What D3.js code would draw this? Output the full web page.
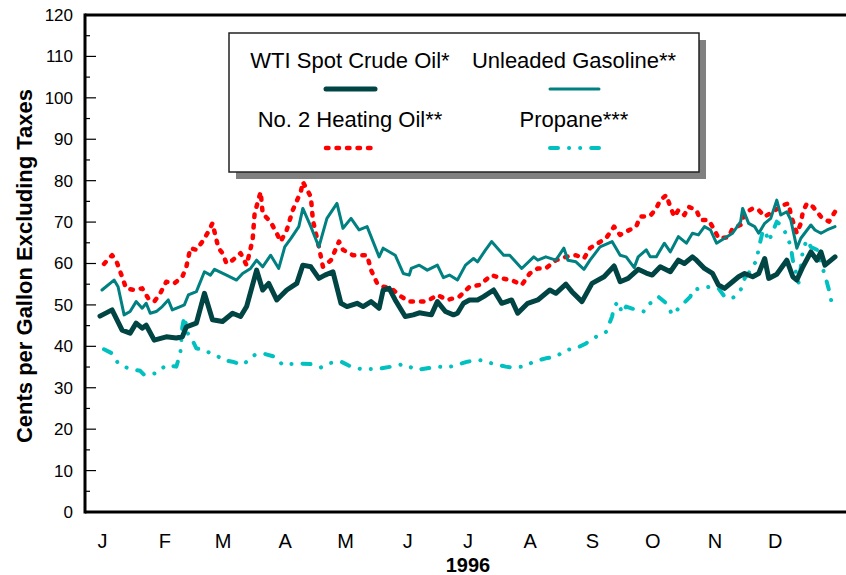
<!DOCTYPE html>
<html>
<head>
<meta charset="utf-8">
<script src="https://cdn.jsdelivr.net/npm/d3@7"></script>
<style>
    body { margin: 0; background: #fff; }
    svg { display: block; font-family: "Liberation Sans", Arial, sans-serif; }
    .tick-label { font-size: 17px; fill: #000; }
    .month-label { font-size: 20px; fill: #000; }
    .legend-text { font-size: 22px; fill: #000; }
</style>
</head>
<body>
<svg id="chart" width="846" height="575"></svg>
<script>
// [day of 1996, cents per gallon]
let crudeOil = [[0,47.3],[6,48.8],[11,43.9],[15,43.2],[18,45.6],[21,44.4],[23,45.1],[27,41.5],[33,42.3],
    [38,42.0],[41,42.3],[43,44.7],[48,45.6],[52,52.8],[56,46.4],[61,46.0],[66,48.0],[70,47.2],[73,49.6],
    [78,58.4],[81,53.6],[84,55.2],[88,51.2],[93,53.6],[98,55.2],[101,59.6],[105,59.2],[109,56.4],[112,57.2],
    [116,58.0],[120,50.4],[123,49.6],[128,50.4],[131,49.6],[135,50.8],[139,49.2],[141,53.6],[144,54.0],
    [147,51.2],[152,47.2],[156,47.6],[159,48.1],[165,47.6],[168,50.8],[172,48.4],[176,47.6],[178,48.0],
    [181,50.4],[184,51.2],[188,51.2],[191,52.0],[196,53.6],[200,50.4],[205,51.2],[208,48.0],[213,50.4],
    [218,51.2],[224,53.6],[227,52.8],[232,55.0],[235,53.2],[240,50.8],[245,55.2],[251,56.8],[256,59.4],
    [259,55.6],[263,56.4],[268,58.6],[272,57.7],[275,57.2],[279,59.2],[284,58.0],[288,60.8],[291,60.0],
    [295,61.6],[297,60.8],[301,58.8],[305,57.6],[308,54.8],[311,54.0],[315,55.6],[318,56.8],[321,57.6],
    [325,56.8],[328,57.6],[331,61.2],[333,56.4],[337,57.4],[342,60.8],[345,56.8],[347,56.0],[350,59.2],
    [354,62.8],[357,60.8],[359,62.8],[361,59.6],[366,61.6]];

let gasoline = [[1,53.6],[7,56.0],[9,54.4],[12,47.6],[15,48.4],[18,50.8],[21,49.2],[23,50.4],[25,48.0],
    [28,48.4],[31,49.6],[34,51.2],[36,48.8],[40,49.6],[42,50.0],[44,52.4],[48,53.2],[52,58.0],[55,57.2],
    [57,58.6],[63,57.2],[68,56.0],[71,57.6],[75,58.8],[78,60.8],[81,59.2],[85,62.0],[89,58.8],[92,64.0],
    [95,66.0],[99,68.9],[101,73.3],[105,68.9],[109,64.0],[113,70.9],[118,74.5],[121,68.5],[125,70.9],
    [129,68.1],[133,68.9],[139,61.6],[141,63.7],[147,62.0],[151,57.6],[154,57.2],[155,58.8],[159,59.6],
    [163,58.4],[168,59.6],[171,56.6],[174,57.2],[178,56.0],[182,59.6],[186,61.2],[188,60.4],[192,63.3],
    [195,65.3],[201,62.0],[204,62.0],[210,58.8],[216,61.6],[218,60.8],[222,61.6],[227,60.8],[231,63.7],
    [233,60.8],[237,60.4],[241,58.6],[244,60.8],[249,64.0],[255,65.3],[259,62.0],[262,61.6],[266,59.0],
    [268,61.6],[272,63.3],[274,61.6],[277,61.6],[281,64.9],[284,62.8],[288,66.5],[292,64.9],[295,67.3],
    [298,66.9],[301,68.9],[304,68.1],[307,64.9],[311,66.1],[315,67.3],[319,70.1],[320,73.3],[323,69.7],
    [326,68.9],[328,67.3],[331,69.7],[334,70.9],[337,75.3],[339,71.7],[342,72.5],[344,70.5],[347,63.7],
    [349,66.1],[354,69.3],[356,68.1],[359,67.3],[362,68.1],[366,68.9]];

let heatingOil = [[2,59.9],[6,62.0],[8,60.8],[11,56.8],[13,54.0],[17,53.6],[21,54.0],[24,51.6],[27,50.8],
    [30,52.8],[33,55.6],[37,55.2],[41,56.8],[43,59.2],[45,63.7],[48,63.3],[51,65.3],[54,67.7],[56,69.7],
    [59,63.7],[61,62.5],[63,60.0],[66,60.8],[70,62.5],[73,59.6],[76,65.7],[77,72.1],[80,77.3],[81,72.1],
    [85,70.0],[88,67.3],[90,65.3],[93,68.1],[96,72.9],[100,77.3],[101,79.7],[105,76.1],[106,70.5],
    [109,64.0],[111,59.2],[115,60.8],[119,65.3],[121,63.3],[126,62.0],[133,62.0],[135,58.4],[138,55.2],
    [141,54.4],[145,54.0],[150,52.0],[154,50.8],[161,50.8],[164,51.2],[168,52.4],[173,51.2],[179,52.0],
    [184,54.4],[189,54.8],[195,57.2],[200,56.4],[205,56.0],[210,54.8],[214,57.6],[218,58.8],[222,58.8],
    [227,60.8],[232,61.6],[237,62.0],[241,61.2],[244,63.7],[248,64.9],[252,66.1],[256,68.9],[259,66.9],
    [262,67.7],[267,68.9],[269,71.3],[274,71.5],[277,73.3],[279,75.3],[282,76.5],[284,73.7],[286,71.3],
    [288,72.9],[291,71.7],[293,73.7],[297,72.9],[299,70.5],[303,70.5],[306,68.1],[308,66.1],[313,66.3],
    [315,68.5],[319,69.3],[321,72.1],[325,73.3],[328,72.9],[331,71.3],[335,72.5],[340,74.1],[343,74.5],
    [344,71.7],[347,67.3],[349,69.7],[350,72.5],[352,74.5],[355,73.7],[359,71.3],[363,70.1],[366,72.5]];

let propane = [[2,39.3],[6,38.3],[9,35.9],[14,34.7],[20,34.1],[22,33.1],[28,33.5],[33,35.5],[38,35.1],
    [40,38.3],[41,44.7],[42,47.2],[44,42.7],[46,41.5],[48,39.5],[52,39.1],[55,38.3],[59,37.5],[61,36.7],
    [66,36.3],[71,35.5],[77,37.9],[81,38.3],[87,37.5],[91,35.5],[98,35.9],[105,35.7],[110,34.9],[115,36.0],
    [120,36.3],[125,35.1],[130,34.5],[138,34.5],[145,35.1],[151,35.7],[158,34.3],[163,34.7],[168,35.1],
    [173,34.9],[179,35.7],[183,36.3],[189,36.7],[195,35.9],[202,35.1],[205,34.9],[211,35.1],[216,36.3],
    [222,37.1],[227,37.5],[232,39.1],[237,39.5],[242,40.7],[245,41.9],[247,42.3],[252,43.5],[255,47.2],
    [256,49.6],[258,50.8],[260,48.0],[262,49.6],[267,48.8],[271,48.4],[274,50.4],[278,52.0],[282,50.4],
    [285,47.6],[289,49.6],[294,52.0],[295,53.6],[299,54.0],[304,54.4],[308,54.0],[311,52.0],[315,51.6],
    [319,53.6],[321,56.4],[324,58.4],[327,60.8],[328,63.7],[330,67.7],[331,68.1],[333,65.3],[337,70.1],
    [339,69.3],[342,66.9],[344,64.0],[345,60.8],[348,55.2],[350,63.3],[352,65.7],[354,64.0],[357,63.3],
    [359,60.0],[361,57.2],[363,53.6],[365,49.0]];

let yTicks = d3.range(0, 121, 10);
let yMinorTicks = d3.range(5, 120, 10);
let monthNames = ['J', 'F', 'M', 'A', 'M', 'J', 'J', 'A', 'S', 'O', 'N', 'D'];

let series = [
    {name: 'WTI Spot Crude Oil*', data: crudeOil, color: '#004444', width: 5, dash: null},
    {name: 'Unleaded Gasoline**', data: gasoline, color: '#008080', width: 3, dash: null},
    {name: 'No. 2 Heating Oil**', data: heatingOil, color: '#ff0000', width: 4.5, dash: '2.5 8'},
    {name: 'Propane***', data: propane, color: '#00c0c0', width: 4, dash: '8 11 0.1 11 0.1 11'}
];

let svg = d3.select('#chart');
let plotLeft = 85, plotRight = 846, plotTop = 15, plotBottom = 512;

let start = new Date(1996, 0, 1);
let end = new Date(1997, 0, 1);
let dayToDate = (d) => d3.timeDay.offset(start, d);

let xScale = d3.scaleTime()
    .domain([start, end])
    .range([100, 835]);
let yScale = d3.scaleLinear().domain([0, 120]).range([plotBottom, plotTop]);

// the lines
let line = d3.line()
    .x((d) => xScale(dayToDate(d[0])))
    .y((d) => yScale(d[1]));

// draw propane first so the others sit on top, like the original
let drawOrder = [series[3], series[2], series[1], series[0]];
svg.append('g').selectAll('path')
    .data(drawOrder)
    .enter()
    .append('path')
    .attr('d', (d) => line(d.data))
    .attr('fill', 'none')
    .attr('stroke', (d) => d.color)
    .attr('stroke-width', (d) => d.width)
    .attr('stroke-linecap', 'round')
    .attr('stroke-linejoin', 'round')
    .attr('stroke-dasharray', (d) => d.dash);

// frame: left axis, bottom axis and top border
let frame = svg.append('g').attr('stroke', '#000').attr('stroke-width', 3);
frame.append('line').attr('x1', plotLeft).attr('x2', plotLeft).attr('y1', plotTop - 1.5).attr('y2', plotBottom + 1.5);
frame.append('line').attr('x1', plotLeft).attr('x2', plotRight).attr('y1', plotBottom).attr('y2', plotBottom);
frame.append('line').attr('x1', plotLeft).attr('x2', plotRight).attr('y1', plotTop).attr('y2', plotTop);

// y ticks point into the plot
let yAxis = svg.append('g');
yAxis.selectAll('line.major')
    .data(yTicks.slice(1, -1))
    .enter()
    .append('line')
    .attr('class', 'major')
    .attr('x1', plotLeft).attr('x2', plotLeft + 11)
    .attr('y1', (d) => yScale(d)).attr('y2', (d) => yScale(d))
    .attr('stroke', '#000').attr('stroke-width', 1.2);
yAxis.selectAll('line.minor')
    .data(yMinorTicks)
    .enter()
    .append('line')
    .attr('class', 'minor')
    .attr('x1', plotLeft).attr('x2', plotLeft + 5)
    .attr('y1', (d) => yScale(d)).attr('y2', (d) => yScale(d))
    .attr('stroke', '#000').attr('stroke-width', 1.2);
yAxis.selectAll('text')
    .data(yTicks)
    .enter()
    .append('text')
    .attr('class', 'tick-label')
    .attr('x', 73)
    .attr('y', (d) => yScale(d))
    .attr('dy', '0.35em')
    .attr('text-anchor', 'end')
    .text((d) => d);

// months along the bottom, no tick marks
let xAxis = d3.axisBottom(xScale)
    .tickValues(d3.timeMonth.range(start, end))
    .tickSize(0)
    .tickPadding(22)
    .tickFormat((d) => monthNames[d.getMonth()]);
svg.append('g')
    .attr('transform', `translate(2,${plotBottom})`)
    .call(xAxis)
    .call((g) => g.select('.domain').remove())
    .call((g) => g.selectAll('text')
        .attr('class', 'month-label')
        .attr('font-family', null)
        .attr('font-size', null));

svg.append('text')
    .attr('x', 468).attr('y', 572)
    .attr('text-anchor', 'middle')
    .attr('font-size', 20).attr('font-weight', 'bold')
    .text('1996');

svg.append('text')
    .attr('transform', 'translate(32,266) rotate(-90)')
    .attr('text-anchor', 'middle')
    .attr('font-size', 22).attr('font-weight', 'bold')
    .text('Cents per Gallon Excluding Taxes');

// legend box with a drop shadow
let legend = svg.append('g');
legend.append('rect')
    .attr('x', 236).attr('y', 40).attr('width', 470).attr('height', 139)
    .attr('fill', '#808080');
legend.append('rect')
    .attr('x', 229).attr('y', 33).attr('width', 470).attr('height', 139)
    .attr('fill', '#fff').attr('stroke', '#222').attr('stroke-width', 1.5);

let legendCols = [350, 574];
let legendRows = [68, 127];
let items = legend.selectAll('g.item')
    .data(series)
    .enter()
    .append('g')
    .attr('class', 'item')
    .attr('transform', (d, i) => `translate(${legendCols[i % 2]},${legendRows[Math.floor(i / 2)]})`);
items.append('text')
    .attr('class', 'legend-text')
    .attr('text-anchor', 'middle')
    .text((d) => d.name);
items.append('line')
    .attr('x1', -24).attr('x2', 25)
    .attr('y1', 21).attr('y2', 21)
    .attr('stroke', (d) => d.color)
    .attr('stroke-width', (d) => d.width)
    .attr('stroke-linecap', 'round')
    .attr('stroke-dasharray', (d) => d.dash);
</script>
</body>
</html>
